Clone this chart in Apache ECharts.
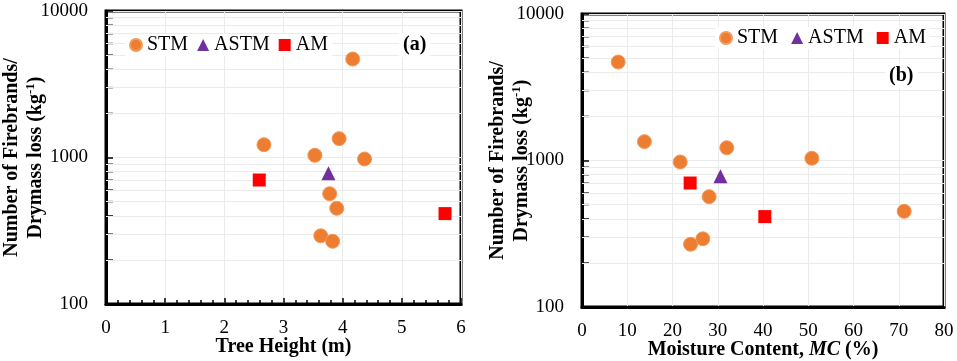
<!DOCTYPE html>
<html>
<head>
<meta charset="utf-8">
<script src="https://cdn.jsdelivr.net/npm/echarts@6/dist/echarts.min.js"></script>
<style>
  html, body { margin: 0; padding: 0; background: #fff; }
  #chart { width: 957px; height: 361px; }
</style>
</head>
<body>
<div id="chart"></div>
<script>
// firebrands per drymass loss (kg^-1)
const stmValues  = [4700, 1222, 1345, 1035, 977, 566, 450, 292, 268];
const stmHeight  = [4.17, 2.67, 3.94, 3.53, 4.37, 3.78, 3.90, 3.63, 3.83];
const stmMC      = [8.0, 32.0, 13.8, 50.8, 21.7, 28.1, 71.2, 26.7, 24.0];

const astmValues = [780];
const astmHeight = [3.76];
const astmMC     = [30.6];

const amValues   = [702, 414];
const amHeight   = [2.59, 5.73];
const amMC       = [23.9, 40.4];

const minorVals  = [200, 300, 400, 500, 600, 700, 800, 900, 2000, 3000, 4000, 5000, 6000, 7000, 8000, 9000];

const FONT = '"Liberation Serif", "Times New Roman", serif';
const ORANGE = '#ED7D31', PURPLE = '#7030A0', RED = '#FF0000';

const zip = (xs, ys) => xs.map((x, i) => [x, ys[i]]);

const chart = echarts.init(document.getElementById('chart'));

function xAxisFor(idx, max, interval, name, minorShow) {
    return {
        type: 'value', gridIndex: idx, min: 0, max: max, interval: interval,
        name: name, nameLocation: 'middle', nameGap: 33, nameMoveOverlap: false,
        nameTextStyle: {
            fontFamily: FONT, fontSize: 20, fontWeight: 'bold', color: '#000',
            rich: { i: { fontFamily: FONT, fontSize: 20, fontWeight: 'bold', fontStyle: 'italic', color: '#000' } }
        },
        axisLine: { show: true, lineStyle: { color: '#000', width: 3 } },
        axisTick: { show: minorShow, inside: true, length: 6, lineStyle: { color: '#000', width: 1.5 } },
        minorTick: { show: minorShow, splitNumber: 5, length: 4, lineStyle: { color: '#000', width: 1.5 } },
        axisLabel: { fontFamily: FONT, fontSize: 19, color: '#000', margin: 15 },
        splitLine: { show: true, lineStyle: { color: '#ebebeb', width: 1 } }
    };
}

function yAxisFor(idx, gap) {
    return {
        type: 'log', gridIndex: idx, min: 100, max: 10000, logBase: 10,
        name: 'Number of Firebrands/\nDrymass loss (kg{s|-1})',
        nameLocation: 'middle', nameGap: gap, nameMoveOverlap: false,
        nameTextStyle: {
            fontFamily: FONT, fontSize: 20, fontWeight: 'bold', color: '#000', lineHeight: 24,
            rich: { s: { fontFamily: FONT, fontSize: 13, fontWeight: 'bold', color: '#000', verticalAlign: 'top', padding: [0, 0, 8, 0] } }
        },
        axisLine: { show: true, lineStyle: { color: '#000', width: 3 } },
        axisTick: { show: true, inside: true, length: 7, lineStyle: { color: '#000', width: 1.5 } },
        axisLabel: { fontFamily: FONT, fontSize: 19, color: '#000', margin: 18, formatter: v => String(Math.round(v)) },
        splitLine: { show: true, lineStyle: { color: '#ebebeb', width: 1 } }
    };
}

function pointSeries(idx, xs, xsA, xsM) {
    return [
        {
            name: 'STM', type: 'scatter', xAxisIndex: idx, yAxisIndex: idx, z: 5,
            symbol: 'circle', symbolSize: 14,
            itemStyle: { color: ORANGE, borderColor: '#F59A5A', borderWidth: 1, opacity: 1 },
            data: zip(xs, stmValues)
        },
        {
            name: 'ASTM', type: 'scatter', xAxisIndex: idx, yAxisIndex: idx, z: 5,
            symbol: 'triangle', symbolSize: 14,
            itemStyle: { color: PURPLE, opacity: 1 },
            data: zip(xsA, astmValues)
        },
        {
            name: 'AM', type: 'scatter', xAxisIndex: idx, yAxisIndex: idx, z: 5,
            symbol: 'rect', symbolSize: 13,
            itemStyle: { color: RED, opacity: 1 },
            data: zip(xsM, amValues)
        },
        {
            // minor log grid lines + little ticks on the left border
            name: 'minor', type: 'scatter', xAxisIndex: idx, yAxisIndex: idx, z: 1,
            silent: true, symbol: 'rect', symbolSize: [6, 1.5], symbolOffset: [4, 0],
            itemStyle: { color: '#000' },
            data: minorVals.map(v => [0, v]),
            markLine: {
                silent: true, symbol: 'none', label: { show: false },
                lineStyle: { color: '#ebebeb', width: 1, type: 'solid' },
                data: minorVals.map(v => ({ yAxis: v }))
            }
        }
    ];
}

function legendFor(left, top, gap) {
    return {
        left: left, top: top, orient: 'horizontal', padding: [1, 4],
        backgroundColor: '#fff', z: 10,
        itemWidth: 12, itemHeight: 12, itemGap: gap,
        data: [
            { name: 'STM', icon: 'circle' },
            { name: 'ASTM', icon: 'triangle' },
            { name: 'AM', icon: 'rect' }
        ],
        textStyle: { fontFamily: FONT, fontSize: 20, color: '#000' }
    };
}

chart.setOption({
    animation: false,
    backgroundColor: '#fff',
    title: [
        { text: '(a)', left: 399, top: 33, padding: [2, 4], backgroundColor: '#fff', z: 10,
          textStyle: { fontFamily: FONT, fontSize: 20, fontWeight: 'bold', color: '#000' } },
        { text: '(b)', left: 885, top: 64, padding: [2, 4], backgroundColor: '#fff', z: 10,
          textStyle: { fontFamily: FONT, fontSize: 20, fontWeight: 'bold', color: '#000' } }
    ],
    legend: [legendFor(125, 34, 9), legendFor(715, 27, 13)],
    grid: [
        { left: 106, top: 11, width: 355, height: 293, outerBoundsMode: 'none', containLabel: false,
          show: true, borderColor: '#000', borderWidth: 3 },
        { left: 582, top: 14, width: 362, height: 293, outerBoundsMode: 'none', containLabel: false,
          show: true, borderColor: '#000', borderWidth: 3 }
    ],
    xAxis: [
        xAxisFor(0, 6, 1, 'Tree Height (m)', true),
        xAxisFor(1, 80, 10, 'Moisture Content, {i|MC} (%)', false)
    ],
    yAxis: [yAxisFor(0, 58), yAxisFor(1, 48)],
    series: [].concat(
        pointSeries(0, stmHeight, astmHeight, amHeight),
        pointSeries(1, stmMC, astmMC, amMC)
    )
});
</script>
</body>
</html>
